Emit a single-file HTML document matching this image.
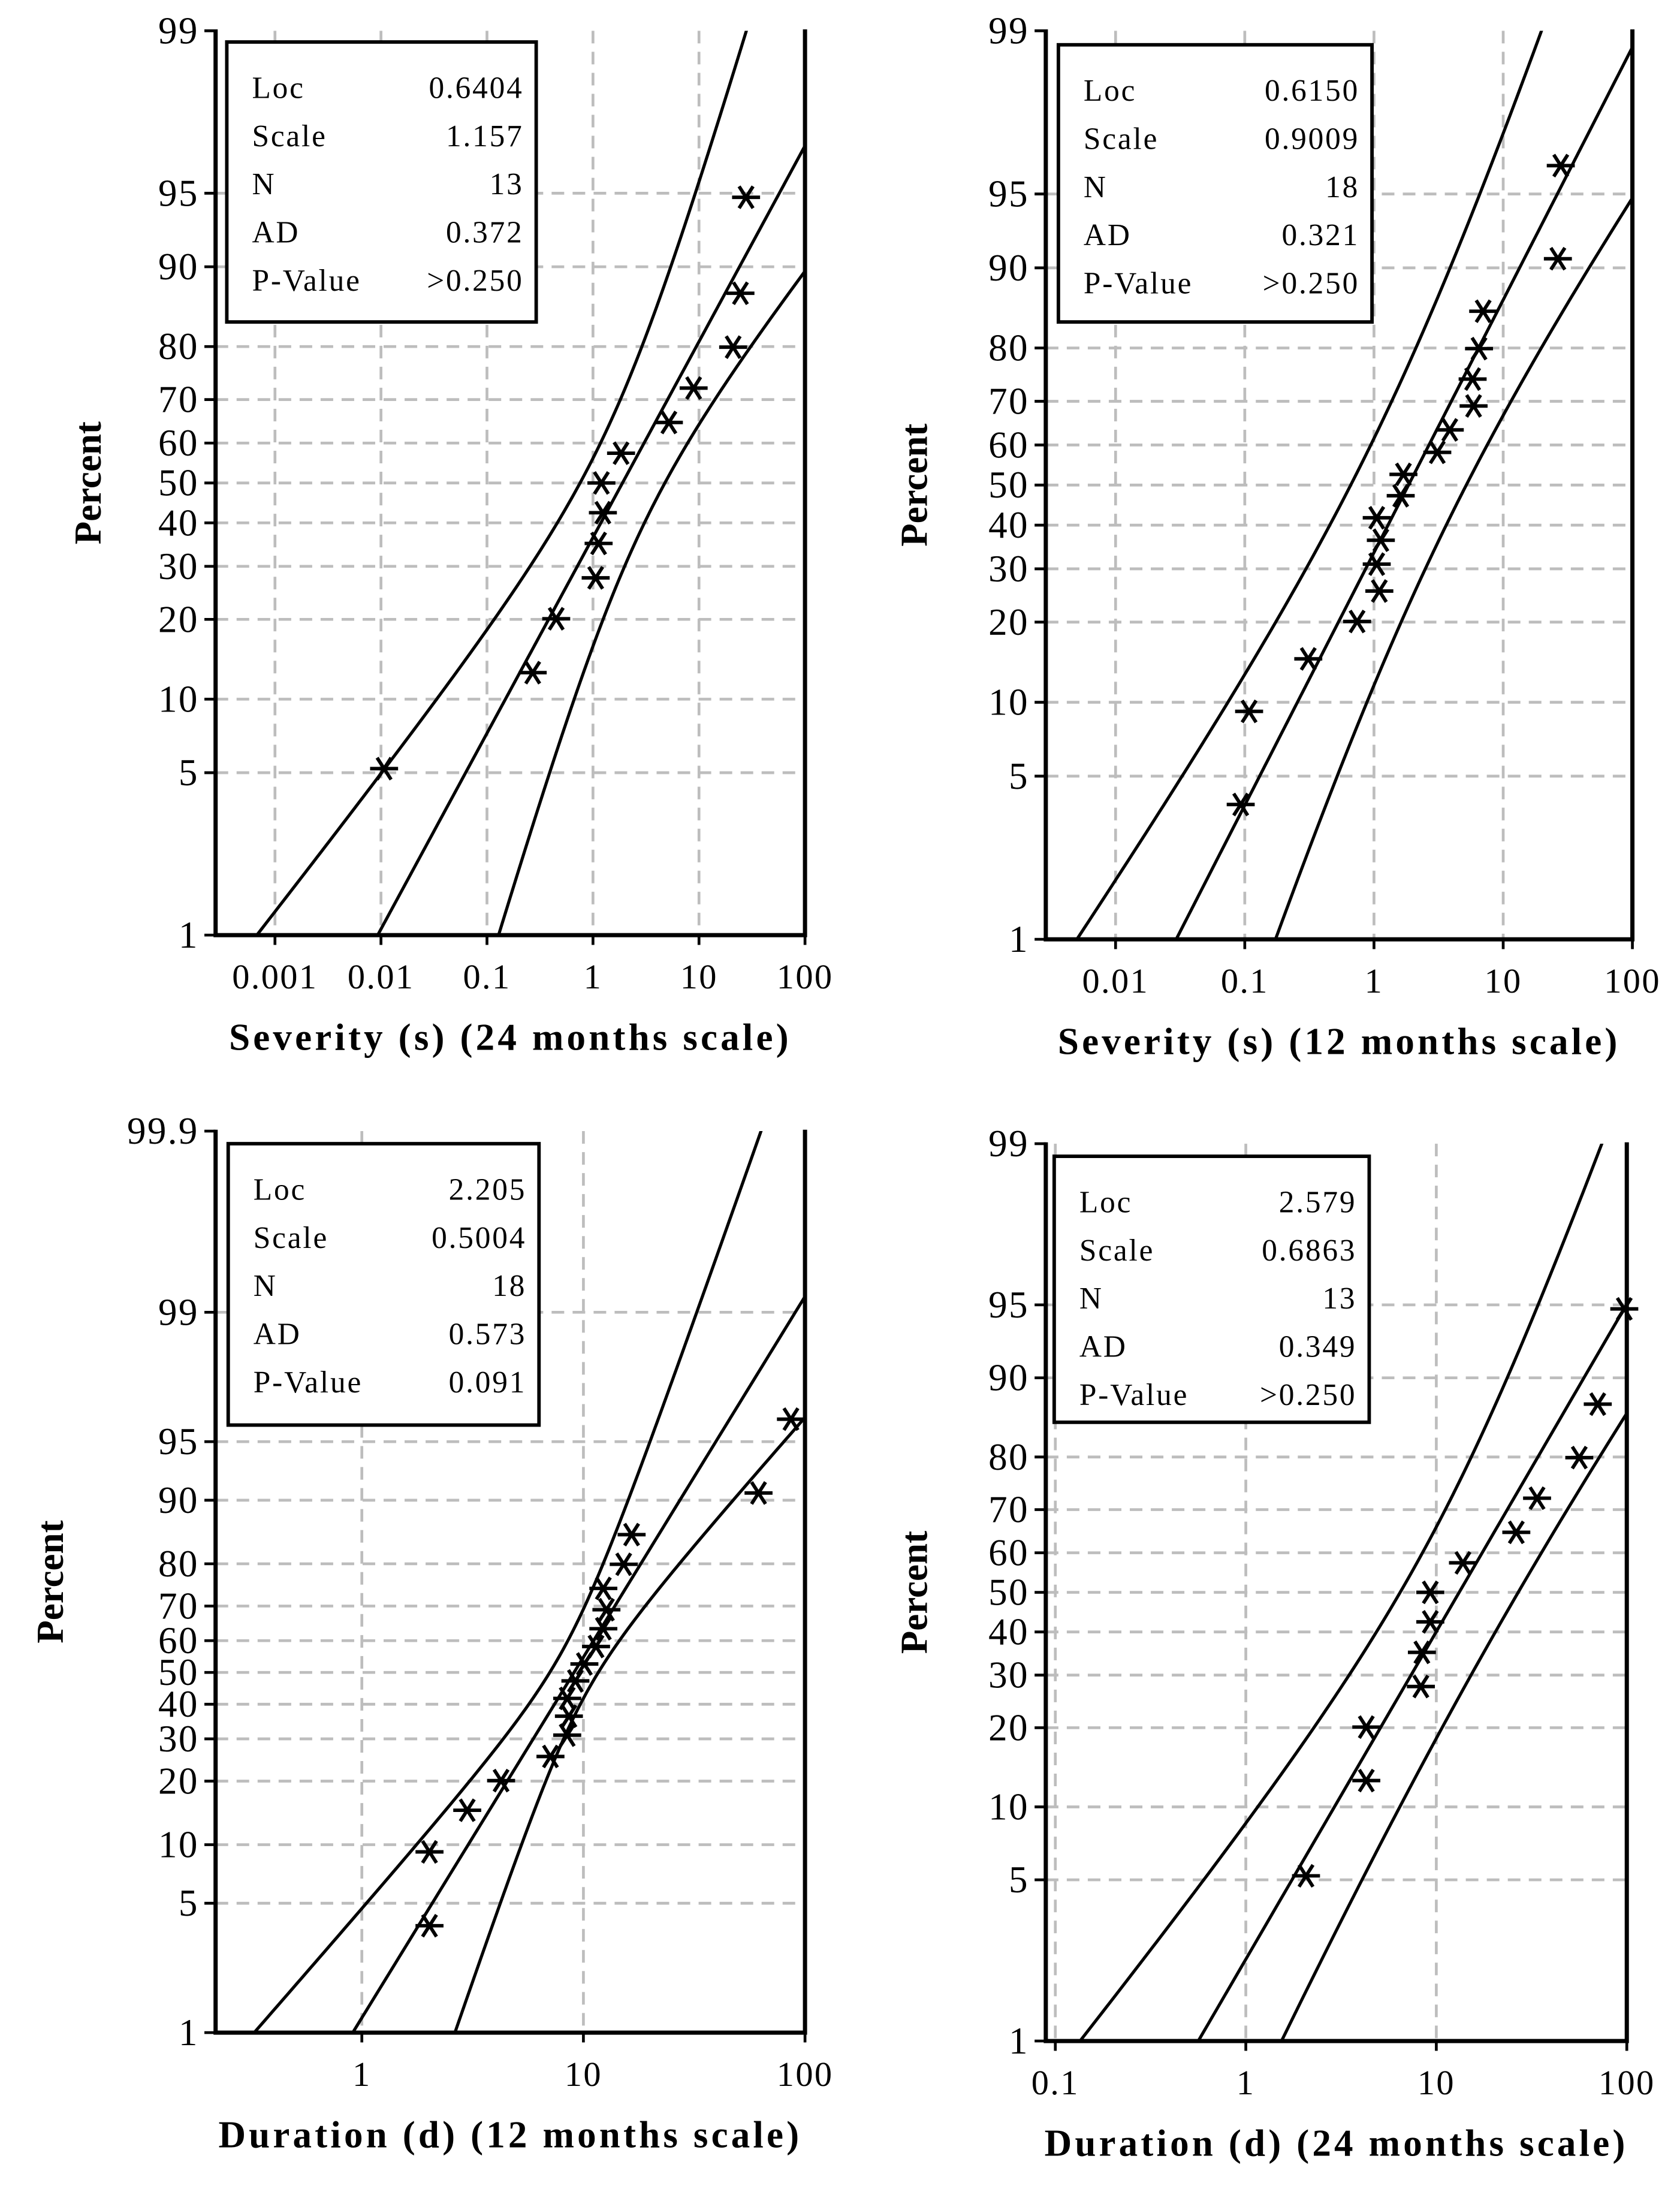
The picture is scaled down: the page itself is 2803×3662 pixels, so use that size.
<!DOCTYPE html>
<html><head><meta charset="utf-8"><style>
html,body{margin:0;padding:0;background:#fff;}
svg{display:block;}
text{font-family:"Liberation Serif",serif;fill:#000;}
</style></head><body>
<svg id="fig" width="2803" height="3662" viewBox="0 0 1200 1568" preserveAspectRatio="none" xmlns="http://www.w3.org/2000/svg"></svg>
<script>
// Chart A: Severity 24 months
const aX = [0.0107,0.27,0.45,1.06,1.13,1.24,1.2,1.84,5.2,8.9,21,24.6,27.8];
const aP = [5.2,12.7,20.1,27.6,35.1,42.5,50,57.5,64.9,72.4,79.9,87.3,94.8];
const aStats = ["0.6404","1.157","13","0.372",">0.250"];
const aFit = [0.6404,1.157];
const aBandHi = [0.16,0.054];
const aBandLo = [0.16,0.054];
const aXTicks = [0.001,0.01,0.1,1,10,100];
const aXTickLabels = ["0.001","0.01","0.1","1","10","100"];
const aYTicks = [1,5,10,20,30,40,50,60,70,80,90,95,99];
// Chart B: Severity 12 months
const bX = [0.093,0.108,0.31,0.74,1.1,1.05,1.13,1.05,1.61,1.69,3.09,3.86,5.9,5.8,6.5,7.0,26.5,27.9];
const bP = [3.8,9.2,14.7,20.1,25.5,31.0,36.4,41.8,47.3,52.7,58.2,63.6,69.0,74.5,79.9,85.3,90.8,96.2];
const bStats = ["0.6150","0.9009","18","0.321",">0.250"];
const bFit = [0.615,0.9009];
const bBandHi = [0.2,0.0185];
const bBandLo = [0.2,0.0185];
const bXTicks = [0.01,0.1,1,10,100];
const bXTickLabels = ["0.01","0.1","1","10","100"];
const bYTicks = [1,5,10,20,30,40,50,60,70,80,90,95,99];
// Chart C: Duration 12 months
const cX = [2.02,2.02,2.99,4.25,7.1,8.45,8.6,8.45,9.2,10.1,11.4,12.3,12.7,12.3,15.2,16.5,61.7,86.4];
const cP = [3.8,9.2,14.7,20.1,25.5,31.0,36.4,41.8,47.3,52.7,58.2,63.6,69.0,74.5,79.9,85.3,90.8,96.2];
const cStats = ["2.205","0.5004","18","0.573","0.091"];
const cFit = [2.205,0.5004];
const cBandHi = [0.012,0.0088];
const cBandLo = [0.012,0.0095];
const cXTicks = [1,10,100];
const cXTickLabels = ["1","10","100"];
const cYTicks = [1,5,10,20,30,40,50,60,70,80,90,95,99,99.9];
// Chart D: Duration 24 months
const dX = [2.07,4.29,4.29,8.3,8.4,9.3,9.3,13.8,26.3,33.8,56.3,70.4,97];
const dP = [5.2,12.7,20.1,27.6,35.1,42.5,50,57.5,64.9,72.4,79.9,87.3,94.8];
const dStats = ["2.579","0.6863","13","0.349",">0.250"];
const dFit = [2.579,0.6863];
const dBandHi = [0.096,0.0137];
const dBandLo = [0.096,0.0045];
const dXTicks = [0.1,1,10,100];
const dXTickLabels = ["0.1","1","10","100"];
const dYTicks = [1,5,10,20,30,40,50,60,70,80,90,95,99];
const statLabels = ["Loc","Scale","N","AD","P-Value"];

const NS="http://www.w3.org/2000/svg";
const svg=document.getElementById('fig');
function mk(tag,attrs,parent){const e=document.createElementNS(NS,tag);for(const k in attrs)e.setAttribute(k,attrs[k]);(parent||svg).appendChild(e);return e;}
function logit(p){p=p/100;return Math.log(p/(1-p));}

function chart(id,g,X,P,stats,fit,bandHi,bandLo,xt,xtl,yt,title){
  const grp=mk('g',{});
  
  
  const lx0=Math.log10(g.x0), lx1=Math.log10(g.x1);
  const sx=v=>g.L+(Math.log10(v)-lx0)/(lx1-lx0)*(g.R-g.L);
  const lt=logit(g.pTop), lb=logit(g.pBot);
  const syL=L=>g.B-(L-lb)/(lt-lb)*(g.B-g.T);
  const sy=p=>syL(logit(p));
  xt.forEach(v=>{const x=sx(v);if(x>g.L+2&&x<g.R-2){const l=mk('line',{x1:x,x2:x,y1:g.T,y2:g.B,stroke:'#bdbdbd','stroke-width':2,'stroke-dasharray':'9,6'},grp);}});
  yt.forEach(v=>{const y=sy(v);if(y>g.T+2&&y<g.B-2){const l=mk('line',{x1:g.L,x2:g.R,y1:y,y2:y,stroke:'#bdbdbd','stroke-width':2,'stroke-dasharray':'9,6'},grp);}});
  const cp=mk('clipPath',{id:'clip-'+id},grp);mk('rect',{x:g.L,y:g.T,width:g.R-g.L,height:g.B-g.T},cp);
  const lines=mk('g',{'clip-path':'url(#clip-'+id+')'},grp);
  [-1,0,1].forEach(s=>{
    const bd=s>0?bandHi:bandLo;
    let d='';
    for(let i=0;i<=200;i++){
      const L=lb-1+(lt-lb+2)*i/200;
      const w=Math.LN10*Math.sqrt(bd[0]+bd[1]*L*L);
      const lnx=fit[0]+fit[1]*L - s*w;
      const x=g.L+(lnx/Math.LN10-lx0)/(lx1-lx0)*(g.R-g.L);
      d+=(i?'L':'M')+x.toFixed(2)+','+syL(L).toFixed(2);
    }
    const p=mk('path',{d:d,fill:'none',stroke:'#000','stroke-width':2.2},lines);
    
    
  });
  X.forEach((v,i)=>{
    const cx=sx(v), cy=sy(P[i]);
    const st=mk('g',{},grp);
    
    
    [0,60,120].forEach(a=>{const r=a*Math.PI/180,dx=10*Math.cos(r),dy=9*Math.sin(r);mk('line',{x1:cx-dx,y1:cy-dy,x2:cx+dx,y2:cy+dy,stroke:'#000','stroke-width':2.5},st);});
  });
  const fr=mk('path',{d:`M${g.L},${g.T-1}V${g.B}H${g.R}V${g.T-1}`,fill:'none',stroke:'#000','stroke-width':3},grp);
  
  yt.forEach(v=>{const y=sy(v);mk('line',{x1:g.L-8,x2:g.L,y1:y,y2:y,stroke:'#000','stroke-width':2},grp);
    const t=mk('text',{x:g.L-12,y:y+9,'text-anchor':'end','font-size':27,'letter-spacing':'1'},grp);t.textContent=v;
    });
  xt.forEach((v,i)=>{const x=sx(v);mk('line',{x1:x,x2:x,y1:g.B,y2:g.B+7,stroke:'#000','stroke-width':2},grp);
    const t=mk('text',{x:x,y:g.B+38,'text-anchor':'middle','font-size':25,'letter-spacing':'1'},grp);t.textContent=xtl[i];
    });
  const xtTxt=mk('text',{x:(g.L+g.R)/2,y:g.B+82,'text-anchor':'middle','font-size':27,'font-weight':'bold','letter-spacing':'2.2'},grp);xtTxt.textContent=title;
  
  const yc=(g.T+g.B)/2;
  const ytTxt=mk('text',{x:g.px,y:yc,'text-anchor':'middle','font-size':27,'font-weight':'bold',transform:`rotate(-90 ${g.px} ${yc})`},grp);ytTxt.textContent='Percent';
  
  const lg=mk('g',{},grp);
  mk('rect',{x:g.bx,y:g.by,width:g.bw,height:g.bh,fill:'#fff',stroke:'#000','stroke-width':2.5},lg);
  statLabels.forEach((s,i)=>{
    const y=g.by+33+i*34.4+7;
    const a=mk('text',{x:g.bx+18,y:y,'font-size':22,'letter-spacing':'1.2'},lg);a.textContent=s;
    
    const b=mk('text',{x:g.bx+g.bw-9,y:y,'font-size':22,'text-anchor':'end','letter-spacing':'1.2'},lg);b.textContent=stats[i];
    
  });
}
chart('chart-severity-24',{L:154,R:575,T:22,B:668,x0:Math.pow(10,-3.56),x1:100,pTop:99,pBot:1,px:72,bx:162,by:30,bw:221,bh:200},aX,aP,aStats,aFit,aBandHi,aBandLo,aXTicks,aXTickLabels,aYTicks,'Severity (s) (24 months scale)');
chart('chart-severity-12',{L:747,R:1166,T:22,B:671,x0:Math.pow(10,-2.54),x1:100,pTop:99,pBot:1,px:662,bx:756,by:32,bw:224,bh:198},bX,bP,bStats,bFit,bBandHi,bBandLo,bXTicks,bXTickLabels,bYTicks,'Severity (s) (12 months scale)');
chart('chart-duration-12',{L:154,R:575,T:808,B:1452,x0:Math.pow(10,-0.66),x1:100,pTop:99.9,pBot:1,px:45,bx:163,by:817,bw:222,bh:201},cX,cP,cStats,cFit,cBandHi,cBandLo,cXTicks,cXTickLabels,cYTicks,'Duration (d) (12 months scale)');
chart('chart-duration-24',{L:747,R:1162,T:817,B:1458,x0:Math.pow(10,-1.05),x1:100,pTop:99,pBot:1,px:662,bx:753,by:826,bw:225,bh:190},dX,dP,dStats,dFit,dBandHi,dBandLo,dXTicks,dXTickLabels,dYTicks,'Duration (d) (24 months scale)');
</script>
</body></html>
